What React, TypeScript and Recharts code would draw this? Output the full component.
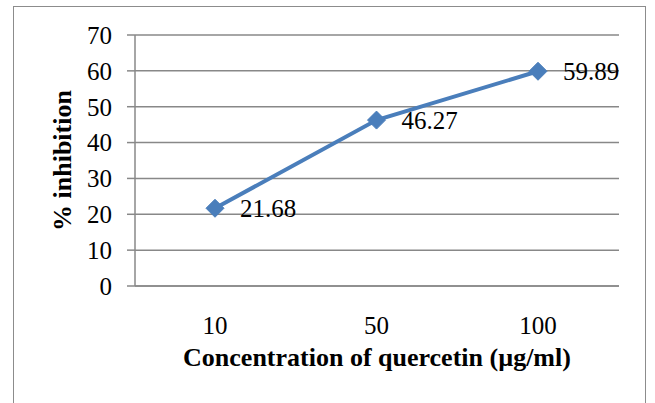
import { LineChart, Line, CartesianGrid, XAxis, YAxis, LabelList } from "recharts";

const concentrations = ["10", "50", "100"];
const inhibition = [21.68, 46.27, 59.89];
const yTicks = [0, 10, 20, 30, 40, 50, 60, 70];

const data = concentrations.map((c, i) => ({ conc: c, value: inhibition[i] }));

const FONT = "'Liberation Serif', 'Times New Roman', serif";
const BLUE = "#4a7ebb";

function Diamond(props: any) {
  const { cx, cy } = props;
  if (cx == null || cy == null) return null;
  const r = 9;
  return (
    <path
      d={`M${cx},${cy - r} L${cx + r},${cy} L${cx},${cy + r} L${cx - r},${cy} Z`}
      fill={BLUE}
      stroke={BLUE}
    />
  );
}

export default function App() {
  return (
    <div
      style={{
        position: "absolute",
        left: 0,
        top: 0,
        width: 655,
        height: 403,
        background: "#fff",
        fontFamily: FONT,
      }}
    >
      <div
        style={{
          position: "absolute",
          left: 13,
          top: 6,
          width: 633,
          height: 400,
          border: "1.5px solid #8c8c8c",
          boxSizing: "border-box",
        }}
      />
      <div style={{ position: "absolute", left: 0, top: 0 }}>
        <LineChart
          width={655}
          height={403}
          data={data}
          margin={{ top: 35, right: 36, bottom: 0, left: 0 }}
          style={{ fontFamily: FONT }}
        >
          <CartesianGrid vertical={false} stroke="#888" strokeWidth={1.5} />
          <XAxis
            dataKey="conc"
            height={117}
            padding={{ left: 80, right: 81 }}
            tickLine={false}
            axisLine={{ stroke: "#888", strokeWidth: 1.5 }}
            tickMargin={24}
            tick={{ fill: "#000", fontSize: 25, fontFamily: FONT }}
            label={{
              value: "Concentration of quercetin (µg/ml)",
              position: "insideBottom",
              offset: 37,
              style: { fill: "#000", fontSize: 26, fontWeight: "bold", fontFamily: FONT },
            }}
          />
          <YAxis
            width={135}
            domain={[0, 70]}
            ticks={yTicks}
            interval={0}
            tickSize={8}
            tickMargin={15}
            tickLine={{ stroke: "#888", strokeWidth: 1.5 }}
            axisLine={{ stroke: "#888", strokeWidth: 1.5 }}
            tick={{ fill: "#000", fontSize: 25, fontFamily: FONT }}
            label={{
              value: "% inhibition",
              angle: -90,
              position: "insideLeft",
              offset: 62,
              style: { textAnchor: "middle", fill: "#000", fontSize: 26, fontWeight: "bold", fontFamily: FONT },
            }}
          />
          <Line
            type="linear"
            dataKey="value"
            stroke={BLUE}
            strokeWidth={4}
            dot={<Diamond />}
            activeDot={false}
            isAnimationActive={false}
          >
            <LabelList
              dataKey="value"
              position="right"
              offset={25}
              style={{ fill: "#000", fontSize: 25, fontFamily: FONT }}
            />
          </Line>
        </LineChart>
      </div>
    </div>
  );
}
